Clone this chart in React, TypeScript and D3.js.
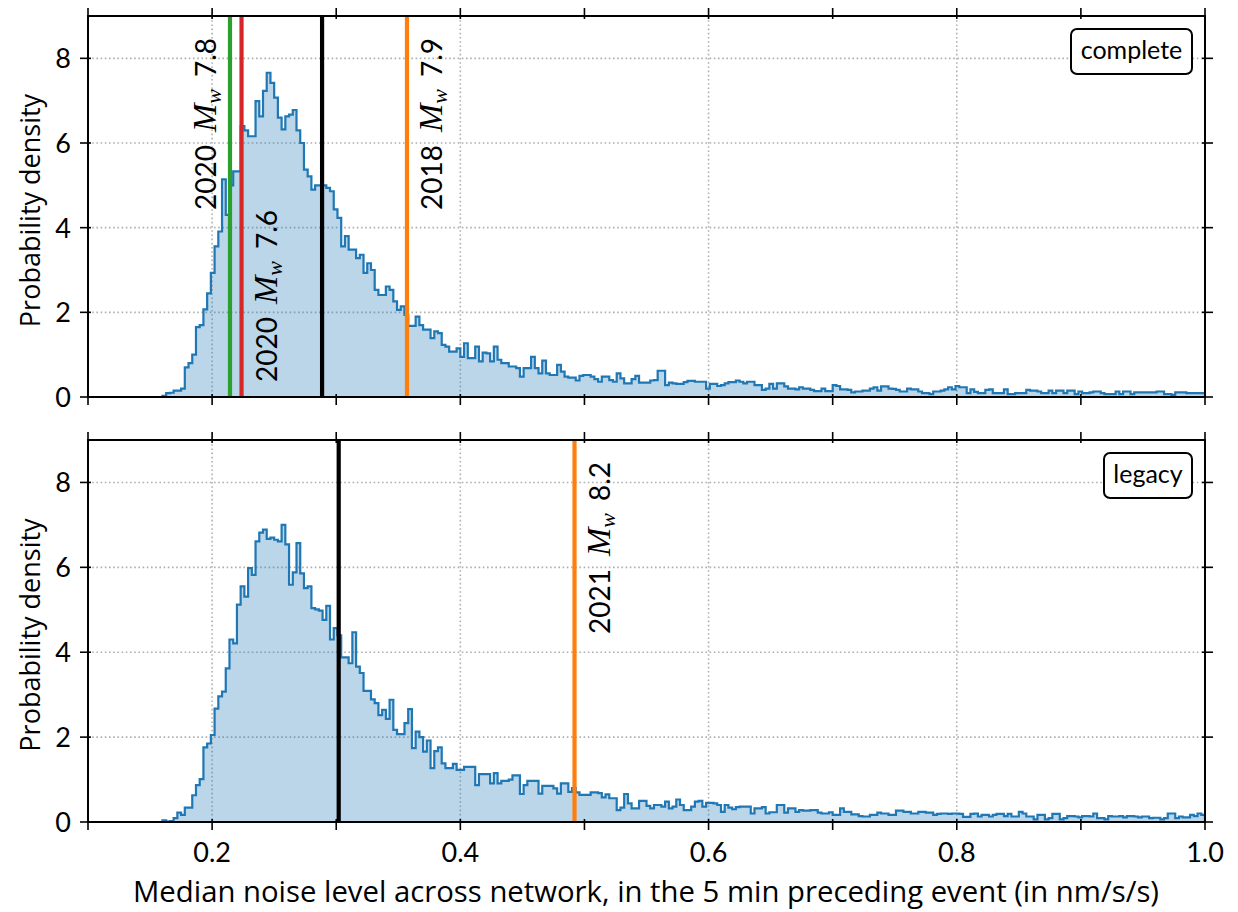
import React from 'react';
import * as d3 from 'd3';

// ---------- data ----------
const BIN_START = 0.1;
const BIN_WIDTH = 0.003;

const completeDensity = [
  0, 0, 0, 0, 0, 0, 0, 0, 0, 0, 0, 0, 0, 0, 0, 0, 0, 0, 0, 0,
  0.03, 0.09, 0.1, 0.15, 0.15, 0.2, 0.7, 0.8, 1.0, 1.65,
  1.7, 2.07, 2.45, 2.93, 3.56, 3.91, 5.14, 4.3, 5.0, 5.33,
  5.33, 6.4, 6.3, 6.16, 6.16, 6.99, 6.63, 7.23, 7.66, 7.42,
  7.07, 6.6, 6.32, 6.63, 6.67, 6.78, 6.3, 6.0, 5.37, 5.21,
  4.9, 5.0, 5.0, 5.0, 4.94, 4.86, 4.43, 4.23, 3.56, 3.8,
  3.48, 3.48, 3.28, 3.36, 2.93, 3.16, 3.0, 2.53, 2.41, 2.41,
  2.61, 2.53, 2.26, 2.06, 2.14, 1.94, 1.68, 1.68, 1.9, 1.7,
  1.59, 1.59, 1.39, 1.55, 1.51, 1.23, 1.19, 1.07, 1.07, 1.15,
  0.95, 1.27, 0.92, 0.92, 1.19, 0.84, 1.05, 1.03, 0.84, 1.19,
  0.88, 0.8, 0.8, 0.72, 0.72, 0.68, 0.48, 0.68, 0.68, 0.95,
  0.68, 0.56, 0.86, 0.56, 0.52, 0.52, 0.76, 0.6, 0.48, 0.46,
  0.46, 0.39, 0.5, 0.52, 0.52, 0.48, 0.42, 0.36, 0.48, 0.48,
  0.4, 0.36, 0.56, 0.44, 0.32, 0.32, 0.42, 0.5, 0.34, 0.34,
  0.34, 0.39, 0.4, 0.62, 0.62, 0.28, 0.34, 0.32, 0.31, 0.31,
  0.35, 0.38, 0.38, 0.36, 0.36, 0.36, 0.2, 0.31, 0.31, 0.26,
  0.28, 0.32, 0.35, 0.35, 0.39, 0.36, 0.32, 0.36, 0.36, 0.28,
  0.28, 0.17, 0.2, 0.31, 0.2, 0.32, 0.32, 0.25, 0.2, 0.2,
  0.18, 0.23, 0.2, 0.2, 0.17, 0.14, 0.14, 0.2, 0.14, 0.14,
  0.28, 0.26, 0.18, 0.18, 0.17, 0.11, 0.13, 0.13, 0.15, 0.15,
  0.2, 0.23, 0.15, 0.25, 0.25, 0.2, 0.19, 0.17, 0.13, 0.13,
  0.2, 0.18, 0.18, 0.13, 0.09, 0.09, 0.07, 0.13, 0.13, 0.15,
  0.18, 0.23, 0.18, 0.26, 0.23, 0.23, 0.09, 0.18, 0.12, 0.09,
  0.09, 0.17, 0.18, 0.09, 0.09, 0.09, 0.18, 0.07, 0.07, 0.09,
  0.09, 0.09, 0.17, 0.15, 0.15, 0.13, 0.09, 0.09, 0.15, 0.09,
  0.15, 0.15, 0.09, 0.15, 0.15, 0.07, 0.13, 0.09, 0.09, 0.11,
  0.13, 0.13, 0.09, 0.07, 0.07, 0.07, 0.13, 0.07, 0.13, 0.13,
  0.07, 0.11, 0.11, 0.11, 0.11, 0.11, 0.11, 0.13, 0.13, 0.07,
  0.07, 0.05, 0.11, 0.11, 0.11, 0.09, 0.09, 0.09, 0.09, 0.09,
];

const legacyDensity = [
  0, 0, 0, 0, 0, 0, 0, 0, 0, 0, 0, 0, 0, 0, 0, 0, 0, 0, 0, 0,
  0.04, 0.01, 0.02, 0.09, 0.22, 0.17, 0.34, 0.34, 0.63, 0.87,
  1.01, 1.76, 1.85, 2.05, 2.67, 2.96, 3.07, 3.62, 4.3, 4.21,
  5.12, 5.55, 5.31, 5.98, 5.82, 6.61, 6.82, 6.89, 6.67, 6.7,
  6.65, 6.61, 7.0, 6.54, 5.59, 5.88, 6.57, 5.86, 5.51, 5.55,
  5.04, 5.01, 4.98, 4.76, 5.09, 4.3, 4.57, 4.4, 3.88, 3.88,
  3.74, 4.47, 3.66, 3.51, 3.09, 3.09, 2.89, 2.8, 2.52, 2.64,
  2.43, 2.88, 2.17, 2.07, 2.07, 2.33, 2.66, 1.74, 2.13, 2.0,
  1.66, 1.92, 1.27, 1.67, 1.76, 1.38, 1.27, 1.27, 1.37, 1.23,
  1.23, 1.3, 1.3, 1.3, 0.87, 1.13, 1.13, 1.13, 0.91, 1.15,
  0.91, 0.97, 0.97, 1.0, 1.1, 1.1, 0.66, 0.87, 0.97, 0.97,
  0.97, 0.67, 0.85, 0.85, 0.85, 0.79, 0.67, 0.91, 0.91, 0.71,
  0.8, 0.7, 0.64, 0.64, 0.64, 0.7, 0.7, 0.68, 0.58, 0.65,
  0.56, 0.56, 0.28, 0.34, 0.66, 0.44, 0.32, 0.32, 0.5, 0.5,
  0.38, 0.32, 0.4, 0.4, 0.36, 0.48, 0.32, 0.36, 0.53, 0.4,
  0.28, 0.28, 0.36, 0.48, 0.5, 0.36, 0.45, 0.45, 0.44, 0.4,
  0.24, 0.4, 0.34, 0.3, 0.35, 0.36, 0.36, 0.36, 0.2, 0.32,
  0.32, 0.35, 0.2, 0.23, 0.23, 0.4, 0.4, 0.22, 0.32, 0.32,
  0.24, 0.28, 0.27, 0.27, 0.28, 0.28, 0.22, 0.2, 0.2, 0.23,
  0.17, 0.17, 0.32, 0.24, 0.24, 0.18, 0.18, 0.14, 0.13, 0.13,
  0.17, 0.17, 0.22, 0.2, 0.2, 0.17, 0.17, 0.27, 0.27, 0.24,
  0.24, 0.2, 0.2, 0.24, 0.24, 0.22, 0.22, 0.17, 0.19, 0.2,
  0.2, 0.19, 0.2, 0.2, 0.19, 0.12, 0.12, 0.19, 0.2, 0.13,
  0.17, 0.17, 0.13, 0.17, 0.19, 0.19, 0.14, 0.19, 0.13, 0.13,
  0.24, 0.2, 0.13, 0.13, 0.06, 0.17, 0.17, 0.06, 0.09, 0.19,
  0.19, 0.06, 0.09, 0.14, 0.14, 0.13, 0.11, 0.14, 0.14, 0.13,
  0.2, 0.09, 0.09, 0.06, 0.14, 0.13, 0.13, 0.14, 0.11, 0.14,
  0.14, 0.13, 0.11, 0.13, 0.13, 0.09, 0.1, 0.1, 0.06, 0.09,
  0.2, 0.2, 0.09, 0.13, 0.11, 0.11, 0.17, 0.14, 0.2, 0.17,
];

const xTickValues = [0.1, 0.2, 0.3, 0.4, 0.5, 0.6, 0.7, 0.8, 0.9, 1.0];
const xTickLabels = ['0.2', '0.4', '0.6', '0.8', '1.0'];
const xGridValues = [0.2, 0.4, 0.6, 0.8];
const yTickValues = [0, 2, 4, 6, 8];

const completeEvents = [
  { x: 0.2144, color: '#2ca02c' },
  { x: 0.2237, color: '#d62728' },
  { x: 0.2886, color: '#000000' },
  { x: 0.357, color: '#ff7f0e' },
];
const legacyEvents = [
  { x: 0.302, color: '#000000' },
  { x: 0.492, color: '#ff7f0e' },
];

// annotation: event x, year, magnitude, side of line, vertical anchoring
const completeNotes = [
  { x: 0.2144, year: '2020', mag: '7.8', side: 'left', anchor: 'top' },
  { x: 0.2237, year: '2020', mag: '7.6', side: 'right', anchor: 'bottom' },
  { x: 0.357, year: '2018', mag: '7.9', side: 'right', anchor: 'top' },
];
const legacyNotes = [
  { x: 0.492, year: '2021', mag: '8.2', side: 'right', anchor: 'top' },
];

// ---------- layout ----------
const W = 1238;
const H = 912;
const LEFT = 88;
const RIGHT = 1205;
const SANS = 'Lato, "Open Sans", sans-serif';
const LABEL = '"Open Sans", Lato, sans-serif';
const SERIF = '"Liberation Serif", "DejaVu Serif", serif';

const xScale = d3.scaleLinear().domain([0.1, 1.0]).range([LEFT, RIGHT]);

type Note = { x: number; year: string; mag: string; side: string; anchor: string };
type Ev = { x: number; color: string };

function Panel(props: {
  top: number;
  bottom: number;
  data: number[];
  events: Ev[];
  notes: Note[];
  tag: string;
  tagWidth: number;
  showXLabels: boolean;
}) {
  const { top, bottom, data, events, notes, tag, tagWidth, showXLabels } = props;
  const y = d3.scaleLinear().domain([0, 9]).range([bottom, top]);
  const pts: [number, number][] = data.map((v, i) => [BIN_START + i * BIN_WIDTH, v]);
  pts.push([BIN_START + data.length * BIN_WIDTH, data[data.length - 1]]);
  const area = d3
    .area<[number, number]>()
    .x((d) => xScale(d[0]))
    .y0(y(0))
    .y1((d) => y(d[1]))
    .curve(d3.curveStepAfter);
  const linePts: [number, number][] = [...pts, [BIN_START + data.length * BIN_WIDTH, 0]];
  const line = d3
    .line<[number, number]>()
    .x((d) => xScale(d[0]))
    .y((d) => y(d[1]))
    .curve(d3.curveStepAfter);

  const clipId = 'clip-' + tag;
  const tickOut = 8;
  const tickIn = 3;

  return (
    <g>
      <defs>
        <clipPath id={clipId}>
          <rect x={LEFT} y={top} width={RIGHT - LEFT} height={bottom - top} />
        </clipPath>
      </defs>
      {/* grid */}
      {xGridValues.map((v) => (
        <line
          key={'gx' + v}
          x1={xScale(v)}
          x2={xScale(v)}
          y1={top}
          y2={bottom}
          stroke="#b0b0b0"
          strokeWidth={1.6}
          strokeDasharray="1.6,2.6"
        />
      ))}
      {yTickValues
        .filter((v) => v > 0)
        .map((v) => (
          <line
            key={'gy' + v}
            x1={LEFT}
            x2={RIGHT}
            y1={y(v)}
            y2={y(v)}
            stroke="#b0b0b0"
            strokeWidth={1.6}
            strokeDasharray="1.6,2.6"
          />
        ))}
      <g clipPath={`url(#${clipId})`}>
        <path d={area(pts) || ''} fill="#1f77b4" fillOpacity={0.3} />
        <path d={line(linePts) || ''} fill="none" stroke="#1f77b4" strokeWidth={2.2} />
        {events.map((e, i) => (
          <line
            key={'ev' + i}
            x1={xScale(e.x)}
            x2={xScale(e.x)}
            y1={top}
            y2={bottom}
            stroke={e.color}
            strokeWidth={4.2}
          />
        ))}
      </g>
      {/* annotations */}
      {notes.map((n, i) => {
        const lx = xScale(n.x);
        const bx = n.side === 'left' ? lx - 14 : lx + 35;
        const by = n.anchor === 'top' ? top + 22 : bottom - 15;
        return (
          <text
            key={'nt' + i}
            transform={`translate(${bx},${by}) rotate(-90)`}
            textAnchor={n.anchor === 'top' ? 'end' : 'start'}
            fontFamily={SANS}
            fontSize={28}
            fill="#000"
          >
            {n.year}
            <tspan fontFamily={SERIF} fontStyle="italic" fontSize={34} dx={13}>
              M
            </tspan>
            <tspan fontFamily={SERIF} fontStyle="italic" fontSize={22} dy={5}>
              w
            </tspan>
            <tspan dy={-5} dx={12}>
              {n.mag}
            </tspan>
          </text>
        );
      })}
      {/* frame */}
      <rect
        x={LEFT}
        y={top}
        width={RIGHT - LEFT}
        height={bottom - top}
        fill="none"
        stroke="#000"
        strokeWidth={2}
      />
      {/* x ticks */}
      {xTickValues.map((v) => (
        <g key={'xt' + v}>
          <line x1={xScale(v)} x2={xScale(v)} y1={bottom - tickIn} y2={bottom + tickOut} stroke="#000" strokeWidth={1.6} />
          <line x1={xScale(v)} x2={xScale(v)} y1={top + tickIn} y2={top - tickOut} stroke="#000" strokeWidth={1.6} />
        </g>
      ))}
      {showXLabels &&
        xTickLabels.map((s) => (
          <text
            key={'xl' + s}
            x={xScale(+s)}
            y={bottom + 40}
            textAnchor="middle"
            fontFamily={SANS}
            fontSize={27}
          >
            {s}
          </text>
        ))}
      {/* y ticks */}
      {yTickValues.map((v) => (
        <g key={'yt' + v}>
          <line x1={LEFT - tickOut} x2={LEFT + tickIn} y1={y(v)} y2={y(v)} stroke="#000" strokeWidth={1.6} />
          <line x1={RIGHT - tickIn} x2={RIGHT + tickOut} y1={y(v)} y2={y(v)} stroke="#000" strokeWidth={1.6} />
          <text x={LEFT - 17} y={y(v) + 10} textAnchor="end" fontFamily={SANS} fontSize={27}>
            {v}
          </text>
        </g>
      ))}
      <text
        transform={`translate(40,${(top + bottom) / 2 + 4}) rotate(-90)`}
        textAnchor="middle"
        fontFamily={LABEL}
        fontSize={27}
      >
        Probability density
      </text>
      {/* tag box */}
      <rect
        x={RIGHT - 13 - tagWidth}
        y={top + 13}
        width={tagWidth}
        height={45}
        rx={6}
        fill="#fff"
        stroke="#000"
        strokeWidth={2}
      />
      <text
        x={RIGHT - 13 - tagWidth / 2}
        y={top + 43}
        textAnchor="middle"
        fontFamily={SANS}
        fontSize={25}
      >
        {tag}
      </text>
    </g>
  );
}

export default function App() {
  return (
    <svg
      width={W}
      height={H}
      style={{ position: 'absolute', left: 0, top: 0, background: '#fff' }}
    >
      <rect x={0} y={0} width={W} height={H} fill="#fff" />
      <Panel
        top={16}
        bottom={397}
        data={completeDensity}
        events={completeEvents}
        notes={completeNotes}
        tag="complete"
        tagWidth={121}
        showXLabels={false}
      />
      <Panel
        top={440}
        bottom={822}
        data={legacyDensity}
        events={legacyEvents}
        notes={legacyNotes}
        tag="legacy"
        tagWidth={88}
        showXLabels={true}
      />
      <text x={646} y={902} textAnchor="middle" fontFamily={LABEL} fontSize={29.3}>
        Median noise level across network, in the 5 min preceding event (in nm/s/s)
      </text>
    </svg>
  );
}
